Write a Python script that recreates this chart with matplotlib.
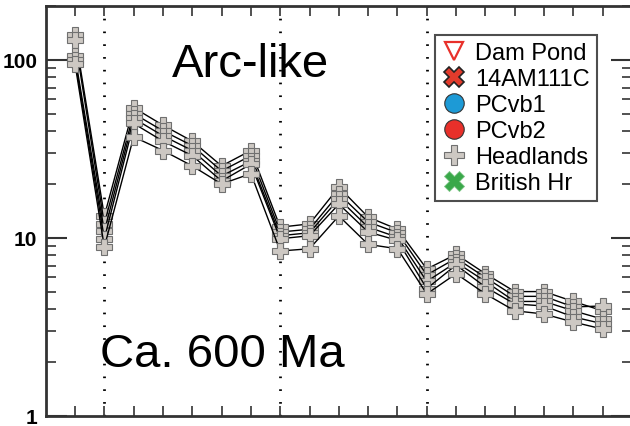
import matplotlib
matplotlib.use("Agg")
import matplotlib.pyplot as plt
from matplotlib.lines import Line2D
from matplotlib.ticker import LogLocator, FixedLocator, NullFormatter

plt.rcParams["font.family"] = ["Liberation Sans", "DejaVu Sans"]

# element positions along the spider diagram (1..19)
positions = list(range(1, 20))

# Headlands samples, normalised concentrations
headlands_1 = [138, 13.3, 54, 43, 35, 25.4, 31, 11.5, 12.0, 19.3, 13.1, 11.2, 6.7, 8.1, 6.3, 5.0, 5.0, 4.4, 3.9]
headlands_2 = [130, 12.0, 50, 40, 33, 23.8, 29, 10.8, 11.2, 17.7, 12.3, 10.7, 6.2, 7.7, 6.0, 4.7, 4.7, 4.1, 4.15]
headlands_3 = [105, 10.9, 47, 37.5, 31, 22.3, 27, 10.3, 10.7, 16.6, 11.5, 10.1, 5.7, 7.3, 5.7, 4.4, 4.4, 3.9, 3.5]
headlands_4 = [100, 9.9, 44, 35, 29, 20.9, 26, 9.9, 10.3, 15.5, 10.8, 9.7, 5.2, 7.05, 5.3, 4.26, 4.15, 3.6, 3.3]
headlands_5 = [95, 8.9, 37, 31, 25.4, 20.1, 23, 8.45, 8.7, 13.3, 9.2, 8.7, 4.85, 6.3, 4.85, 3.9, 3.74, 3.37, 3.08]
headlands = [headlands_1, headlands_2, headlands_3, headlands_4, headlands_5]

# group boundaries drawn as dotted lines
dividers = [2, 8, 13]

y_ticks = [1, 10, 100]
y_tick_labels = ["1", "10", "100"]

fig = plt.figure(figsize=(6.3, 4.27), dpi=100)
ax = fig.add_axes([45.7 / 630, 10 / 427, 586.3 / 630, 410 / 427])

for x in dividers:
    ax.axvline(x, color="black", lw=2.0, ls=(0, (0.6, 4.0)), zorder=1)

for vals in headlands:
    ax.plot(positions, vals, color="black", lw=1.0, marker="P", ms=11.5,
            mfc="#cdc8c3", mec="#707070", mew=0.8, zorder=3)

ax.set_yscale("log")
ax.set_ylim(1, 201)
ax.set_xlim(0, 20)

ax.xaxis.set_major_locator(FixedLocator(positions))
ax.set_xticklabels([])
ax.yaxis.set_major_locator(FixedLocator(y_ticks))
ax.set_yticklabels(y_tick_labels, fontsize=15, fontweight="bold")
ax.yaxis.set_minor_locator(LogLocator(base=10, subs=range(2, 10)))
ax.yaxis.set_minor_formatter(NullFormatter())

ax.tick_params(axis="x", direction="in", top=True, bottom=True, length=7, width=1.2, color="#333333")
ax.tick_params(axis="y", which="major", direction="in", left=True, right=True, length=15, width=1.5,
               pad=6, color="#333333")
ax.tick_params(axis="y", which="minor", direction="in", left=True, right=True, length=7, width=1.2,
               color="#333333")
for s in ax.spines.values():
    s.set_linewidth(2)
    s.set_color("#333333")

# labels placed in pixels measured from the top edge
ax.text(172, 427 - 77, "Arc-like", transform=None, fontsize=34, va="baseline", ha="left")
ax.text(100, 427 - 367, "Ca. 600 Ma", transform=None, fontsize=34, va="baseline", ha="left")

handles = [
    Line2D([], [], ls="none", marker="v", ms=13, mfc="white", mec="#e8302a", mew=1.6),
    Line2D([], [], ls="none", marker="X", ms=15, mfc="#e23b2c", mec="#222222", mew=1.2),
    Line2D([], [], ls="none", marker="o", ms=14, mfc="#1d9ad6", mec="#333333", mew=0.8),
    Line2D([], [], ls="none", marker="o", ms=14, mfc="#e8302a", mec="#333333", mew=0.8),
    Line2D([], [], ls="none", marker="P", ms=15, mfc="#cdc8c3", mec="#707070", mew=0.8),
    Line2D([], [], ls="none", marker="X", ms=15, mfc="#3aa84a", mec="#7cc585", mew=0.6),
]
labels = ["Dam Pond", "14AM111C", "PCvb1", "PCvb2", "Headlands", "British Hr"]
leg = ax.legend(handles, labels, loc="upper right", bbox_to_anchor=(0.940, 0.930),
                borderaxespad=0, fontsize=17, frameon=True, fancybox=False,
                labelspacing=0.17, handlelength=1.0, handletextpad=0.4,
                borderpad=0.3)
leg.get_frame().set_edgecolor("#222222")
leg.get_frame().set_linewidth(1.5)

fig.savefig("out.png", dpi=100)
